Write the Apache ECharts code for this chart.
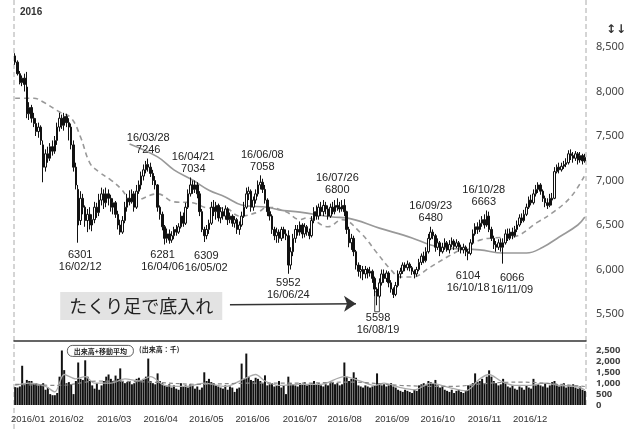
<!DOCTYPE html>
<html><head><meta charset="utf-8">
<script src="https://cdn.jsdelivr.net/npm/echarts@6/dist/echarts.min.js"></script>
<style>html,body{margin:0;padding:0;background:#fff}#c{width:640px;height:435px}</style>
</head><body><div id="c"></div>
<script>
// Trading days of 2016 by month
const monthKeys = ['01','02','03','04','05','06','07','08','09','10','11','12'];
const tradingDays = [
 [4,5,6,7,8,12,13,14,15,18,19,20,21,22,25,26,27,28,29],
 [1,2,3,4,5,8,9,10,12,15,16,17,18,19,22,23,24,25,26,29],
 [1,2,3,4,7,8,9,10,11,14,15,16,17,18,22,23,24,25,28,29,30,31],
 [1,4,5,6,7,8,11,12,13,14,15,18,19,20,21,22,25,26,27,28],
 [2,6,9,10,11,12,13,16,17,18,19,20,23,24,25,26,27,30,31],
 [1,2,3,6,7,8,9,10,13,14,15,16,17,20,21,22,23,24,27,28,29,30],
 [1,4,5,6,7,8,11,12,13,14,15,19,20,21,22,25,26,27,28,29],
 [1,2,3,4,5,8,9,10,12,15,16,17,18,19,22,23,24,25,26,29,30,31],
 [1,2,5,6,7,8,9,12,13,14,15,16,20,21,23,26,27,28,29,30],
 [3,4,5,6,7,11,12,13,14,17,18,19,20,21,24,25,26,27,28,31],
 [1,2,4,7,8,9,10,11,14,15,16,17,18,21,22,24,25,28,29,30],
 [1,2,5,6,7,8,9,12,13,14,15,16,19,20,21,22,26,27,28,29,30]
];
const categories = [];
monthKeys.forEach((m, k) => tradingDays[k].forEach(d => categories.push('16/' + m + '/' + String(d).padStart(2,'0'))));

// daily candles: [open, close, low, high]
const candlesJan = [[8400,8330,8300,8430],[8330,8200,8180,8350],[8200,8100,8080,8230],[8100,8150,8060,8180],[8150,8080,8000,8200],[8050,7750,7700,8220],[7750,7820,7680,7880],[7820,7700,7650,7850],[7700,7640,7600,7760],[7640,7550,7500,7700],[7550,7600,7480,7650],[7600,7450,7400,7620],[7400,7150,6980,7450],[7150,7300,7100,7350],[7300,7250,7200,7380],[7250,7380,7220,7420],[7380,7330,7280,7450],[7330,7450,7300,7500],[7450,7600,7400,7650]];
const candlesFeb = [[7600,7700,7550,7760],[7700,7620,7580,7740],[7620,7720,7560,7760],[7720,7650,7600,7750],[7650,7600,7450,7700],[7600,7400,7350,7640],[7400,7150,7100,7450],[7150,6950,6900,7200],[6900,6500,6301,6950],[6550,6800,6500,6880],[6800,6700,6620,6850],[6700,6550,6480,6720],[6550,6620,6420,6680],[6620,6500,6450,6700],[6500,6560,6430,6620],[6560,6700,6520,6760],[6700,6640,6580,6750],[6640,6780,6600,6850],[6780,6850,6720,6920],[6850,6750,6680,6900]];
const candlesMar = [[6750,6850,6700,6920],[6850,6800,6720,6900],[6800,6700,6650,6840],[6700,6750,6620,6800],[6750,6620,6580,6770],[6620,6500,6450,6660],[6500,6420,6390,6560],[6420,6550,6400,6600],[6550,6700,6520,6760],[6700,6800,6650,6850],[6800,6760,6720,6890],[6760,6850,6740,6900],[6850,6700,6650,6880],[6700,6880,6680,6950],[6880,6950,6850,7000],[6950,7050,6900,7100],[7050,7120,7000,7180],[7120,7180,7080,7220],[7180,7150,7100,7246],[7150,7080,7040,7200],[7080,7000,6950,7120],[7000,6950,6900,7050]];
const candlesApr = [[6950,6700,6650,6960],[6700,6620,6560,6720],[6620,6480,6440,6650],[6480,6350,6281,6500],[6350,6400,6300,6460],[6400,6330,6290,6450],[6330,6380,6300,6430],[6380,6450,6340,6480],[6450,6420,6380,6500],[6420,6480,6400,6520],[6480,6600,6460,6650],[6600,6520,6480,6640],[6520,6700,6500,6750],[6700,6850,6680,6900],[6850,6950,6820,7034],[6950,6900,6850,7000],[6900,6950,6860,7000],[6950,6850,6800,6980],[6850,6650,6600,6880],[6650,6450,6420,6680]];
const candlesMay = [[6450,6380,6309,6480],[6380,6450,6340,6500],[6450,6520,6400,6560],[6520,6700,6500,6760],[6700,6650,6600,6780],[6650,6720,6560,6760],[6720,6580,6540,6740],[6580,6650,6520,6700],[6650,6600,6560,6700],[6600,6680,6560,6720],[6680,6560,6500,6700],[6560,6600,6520,6640],[6600,6520,6480,6620],[6520,6560,6470,6600],[6560,6450,6400,6580],[6450,6500,6390,6540],[6500,6600,6480,6650],[6600,6700,6580,6760],[6700,6850,6680,6920]];
const candlesJun = [[6850,6880,6780,6930],[6880,6700,6650,6900],[6700,6780,6660,6820],[6780,6850,6740,6900],[6850,6950,6820,7000],[6950,6980,6900,7058],[6980,6900,6860,7020],[6900,6780,6740,6950],[6780,6650,6600,6800],[6650,6600,6550,6700],[6600,6450,6400,6620],[6450,6380,6330,6480],[6380,6420,6300,6470],[6420,6350,6300,6450],[6350,6450,6320,6480],[6450,6400,6350,6480],[6400,6380,6330,6450],[6380,6050,5952,6440],[6050,6200,6000,6250],[6200,6350,6150,6400],[6350,6450,6300,6500],[6450,6420,6380,6500]];
const candlesJul = [[6420,6500,6380,6540],[6500,6400,6350,6520],[6400,6480,6360,6520],[6480,6420,6380,6500],[6420,6380,6340,6460],[6380,6550,6360,6600],[6550,6650,6520,6700],[6650,6600,6560,6720],[6600,6700,6560,6740],[6700,6650,6600,6760],[6650,6720,6600,6780],[6720,6680,6620,6760],[6680,6600,6560,6720],[6600,6700,6580,6740],[6700,6650,6620,6760],[6650,6720,6620,6780],[6720,6700,6660,6800],[6700,6680,6640,6760],[6680,6720,6650,6780],[6720,6650,6600,6790]];
const candlesAug = [[6650,6450,6400,6660],[6450,6300,6250,6480],[6300,6350,6220,6400],[6350,6200,6150,6380],[6200,6050,6000,6220],[6050,5980,5920,6080],[5980,6000,5900,6050],[6000,5950,5880,6040],[5950,6000,5900,6040],[6000,5960,5900,6020],[5960,5980,5920,6030],[5980,5900,5850,6000],[5900,5780,5700,5920],[5780,5700,5598,5800],[5700,5850,5680,5900],[5850,5950,5820,6000],[5950,5900,5850,6000],[5900,5960,5860,5990],[5960,5850,5800,5980],[5850,5780,5740,5880],[5780,5720,5680,5800],[5720,5820,5700,5860]];
const candlesSep = [[5820,5950,5800,5990],[5950,5980,5900,6020],[5980,6050,5950,6080],[6050,6020,5980,6080],[6020,6060,5990,6100],[6060,6020,5980,6080],[6020,5980,5940,6040],[5980,5950,5900,6000],[5950,6000,5920,6030],[6000,6080,5980,6120],[6080,6150,6050,6180],[6150,6100,6070,6200],[6100,6200,6080,6250],[6200,6350,6180,6400],[6350,6420,6330,6480],[6420,6380,6340,6450],[6380,6250,6200,6400],[6250,6300,6220,6350],[6300,6200,6150,6320],[6200,6250,6180,6300]];
const candlesOct = [[6250,6300,6220,6350],[6300,6220,6200,6320],[6220,6280,6180,6330],[6280,6320,6250,6360],[6320,6260,6220,6340],[6260,6300,6240,6340],[6300,6250,6200,6320],[6250,6220,6180,6280],[6220,6250,6180,6290],[6250,6200,6150,6270],[6200,6180,6104,6230],[6180,6300,6160,6340],[6300,6400,6280,6450],[6400,6480,6380,6520],[6480,6450,6400,6530],[6450,6520,6420,6560],[6520,6560,6480,6600],[6560,6500,6460,6620],[6500,6600,6480,6663],[6600,6450,6420,6650]];
const candlesNov = [[6450,6350,6320,6480],[6350,6280,6230,6380],[6280,6250,6200,6320],[6250,6300,6220,6340],[6300,6250,6200,6350],[6250,6300,6066,6350],[6300,6400,6280,6450],[6400,6350,6320,6460],[6350,6420,6330,6460],[6420,6380,6340,6470],[6380,6450,6360,6490],[6450,6500,6420,6550],[6500,6580,6480,6620],[6580,6550,6520,6630],[6550,6620,6530,6670],[6620,6700,6600,6740],[6700,6780,6680,6820],[6780,6750,6720,6840],[6750,6850,6730,6900],[6850,6900,6820,6950]];
const candlesDec = [[6900,6950,6860,6980],[6950,6880,6840,6970],[6880,6800,6760,6900],[6800,6750,6700,6830],[6750,6720,6680,6800],[6720,6800,6700,6850],[6800,6780,6720,6860],[6800,7100,6790,7150],[7100,7150,7080,7180],[7150,7120,7080,7200],[7120,7160,7100,7200],[7160,7180,7130,7220],[7180,7200,7150,7250],[7200,7300,7180,7340],[7300,7280,7230,7350],[7280,7250,7200,7320],[7250,7300,7220,7330],[7300,7230,7180,7320],[7230,7280,7200,7320],[7280,7220,7180,7300],[7220,7260,7200,7300]];

// daily volume (thousand shares)
const volumeData = [
 820,800,850,1800,1000,1150,1100,1100,950,1000,900,950,1000,700,800,500,450,450,550,
 1300,2500,1600,1000,1050,950,500,1100,1950,1200,1150,2050,1300,1100,900,750,1000,700,900,1100,
 1300,1400,1200,1100,1350,1200,1680,1100,1000,1050,1100,950,1000,1200,1250,1150,1200,1300,2130,1100,1000,950,
 1450,1100,1000,900,850,950,800,900,750,700,1000,850,900,800,950,900,750,850,700,800,
 1500,1100,1200,1050,1000,900,850,800,750,900,700,850,800,600,750,800,1900,1200,2360,
 1300,1150,1100,1250,1200,1100,1000,1360,900,950,1000,850,900,1100,800,900,500,1300,1000,950,900,850,
 1000,950,1050,900,950,1000,1100,950,1000,900,850,950,900,1000,1050,950,1000,900,950,1950,
 1300,1100,1200,1500,1250,900,850,800,900,850,800,850,900,1450,1000,900,950,850,900,1000,850,800,
 700,650,600,700,650,600,550,700,650,900,950,1000,900,1100,1050,1000,1150,900,800,850,
 700,650,600,700,550,650,700,600,550,650,900,900,1000,1450,1050,1100,1200,1000,1300,1590,
 1300,1100,1000,900,950,1200,1000,850,800,900,750,700,850,800,700,900,800,750,1200,900,
 950,900,850,1000,800,900,1050,1100,950,850,900,1000,800,900,850,950,800,750,850,700,650
];

// moving averages
const priceMA25 = [['16/01/04',7925],['16/01/15',7925],['16/01/21',7882],['16/02/01',7770],['16/02/08',7702],['16/02/15',7488],['16/02/19',7196],['16/02/25',7095],['16/03/03',7005],['16/03/09',6915],['16/03/14',6814],['16/03/16',6740],['16/03/22',6780],['16/04/01',6850],['16/04/12',6760],['16/04/22',6750],['16/05/09',6690],['16/05/18',6690],['16/05/26',6600],['16/06/07',6645],['16/06/13',6700],['16/06/23',6650],['16/07/01',6560],['16/07/06',6580],['16/07/20',6480],['16/07/28',6560],['16/08/09',6410],['16/08/19',6185],['16/08/29',5995],['16/09/02',5915],['16/09/09',5915],['16/09/23',6030],['16/10/04',6140],['16/10/14',6240],['16/10/25',6330],['16/11/02',6355],['16/11/15',6365],['16/12/01',6535],['16/12/09',6635],['16/12/21',6815],['16/12/30',7060]];
const priceMA75 = [['16/03/15',7410],['16/04/01',7265],['16/04/12',7120],['16/04/22',7005],['16/05/09',6890],['16/05/18',6815],['16/05/27',6725],['16/06/13',6700],['16/06/20',6670],['16/07/01',6645],['16/07/22',6590],['16/08/01',6580],['16/08/22',6465],['16/09/09',6355],['16/09/23',6275],['16/10/04',6240],['16/10/25',6220],['16/11/09',6185],['16/11/24',6185],['16/12/05',6250],['16/12/14',6365],['16/12/27',6500],['16/12/30',6590]];
const volMAshort = [['16/01/04',900],['16/01/13',1000],['16/01/22',850],['16/01/28',600],['16/02/03',1400],['16/02/10',1200],['16/02/17',1300],['16/02/23',1000],['16/03/03',1000],['16/03/11',1200],['16/03/22',1100],['16/03/29',1300],['16/04/06',900],['16/04/19',850],['16/05/02',1000],['16/05/18',850],['16/05/30',1200],['16/06/06',1400],['16/06/10',1100],['16/06/20',900],['16/07/01',950],['16/07/14',950],['16/07/29',1300],['16/08/09',1100],['16/08/18',900],['16/08/24',1000],['16/09/02',800],['16/09/12',700],['16/09/23',1000],['16/10/05',800],['16/10/17',650],['16/10/25',1200],['16/10/31',1400],['16/11/08',1100],['16/11/16',900],['16/11/25',900],['16/12/06',1000],['16/12/14',900],['16/12/26',850],['16/12/30',700]];
const volMAlong = [['16/01/04',950],['16/02/01',900],['16/02/25',1100],['16/03/29',1050],['16/04/27',950],['16/06/01',1000],['16/07/01',1000],['16/08/02',1050],['16/09/02',900],['16/10/05',850],['16/10/31',1000],['16/11/18',1050],['16/12/14',950],['16/12/30',850]];

// annotated highs and lows
const peakMarks = [['16/03/28',7246],['16/04/21',7034],['16/06/08',7058],['16/07/26',6800],['16/09/23',6480],['16/10/28',6663]];
const troughMarks = [['16/02/12',6301],['16/04/06',6281],['16/05/02',6309],['16/06/24',5952],['16/08/19',5598],['16/10/18',6104],['16/11/09',6066]];
const noteText = 'たくり足で底入れ';

const candles = [].concat(candlesJan,candlesFeb,candlesMar,candlesApr,candlesMay,candlesJun,candlesJul,candlesAug,candlesSep,candlesOct,candlesNov,candlesDec);

const LBL_FONT = "'Liberation Sans Narrow','Liberation Sans',Arial,sans-serif";
const peakOff = {'16/04/21':[3,0],'16/06/08':[2,0],'16/10/28':[-3,0]};
const troughOff = {'16/02/12':[2,2],'16/04/06':[-2,0],'16/05/02':[2,3],'16/08/19':[1,2],'16/10/18':[0,5],'16/11/09':[9,4],'16/06/24':[0,-1]};
const markData = [];
peakMarks.forEach(([d,v]) => markData.push({coord:[d,v], value:v,
  label:{position:'top', distance:2, offset:peakOff[d]||[0,0], formatter:d+'\n'+v}}));
troughMarks.forEach(([d,v]) => markData.push({coord:[d,v], value:v,
  label:{position:'bottom', distance:4, offset:troughOff[d]||[0,0], formatter:v+'\n'+d}}));
markData.push({coord:['16/03/23',5590], label:{position:'inside', formatter:noteText, fontSize:18,
  fontFamily:"'Noto Sans CJK JP',sans-serif", color:'#222', backgroundColor:'#e3e3e3', padding:[4,9], lineHeight:20}});

const isMonthStart = (i) => i === 0 || categories[i].slice(3,5) !== categories[i-1].slice(3,5);
const monthLabel = (v) => '2016/' + v.slice(3,5);
// small horizontal nudges of the month labels (px), to match the original typesetting
const labelShift = {'02':7,'03':8,'04':3,'05':2,'06':4,'07':0,'08':-2,'09':-6,'10':-7,'11':-7,'12':-8};
const richStyles = {};
Object.keys(labelShift).forEach(m => {
  const s = labelShift[m];
  richStyles['m' + m] = {padding:[0, Math.max(0,-2*s), 0, Math.max(0,2*s)], fontSize:9.5, fontFamily:LBL_FONT, color:'#333'};
});

const chart = echarts.init(document.getElementById('c'), null, {renderer:'canvas'});
chart.setOption({
  animation:false,
  backgroundColor:'#fff',
  grid:[
    {left:14, right:54, top:2.5, height:338.2},
    {left:14, right:54, top:340.7, height:64.3}
  ],
  xAxis:[
    {type:'category', gridIndex:0, data:categories, boundaryGap:true,
     axisLine:{show:true, lineStyle:{color:'#333', width:1.5}}, axisTick:{show:false}, axisLabel:{show:false}, splitLine:{show:false}},
    {type:'category', gridIndex:1, data:categories, boundaryGap:true,
     axisLine:{show:false}, axisTick:{show:false}, splitLine:{show:false},
     axisLabel:{show:true, interval:(i)=> i > 0 && isMonthStart(i),
       formatter:(v)=> '{m' + v.slice(3,5) + '|' + monthLabel(v) + '}', rich:richStyles,
       margin:9, fontSize:9.5, fontFamily:LBL_FONT, color:'#333', showMinLabel:true, showMaxLabel:true, hideOverlap:false}}
  ],
  yAxis:[
    {type:'value', gridIndex:0, position:'right', min:5200, max:9000, interval:100, scale:false,
     axisLine:{show:false}, axisTick:{show:false}, splitLine:{show:false},
     axisLabel:{margin:10, fontSize:11, color:'#444', fontFamily:"'Noto Sans',sans-serif",
       formatter:(v)=> (v%500===0 && v>=5500 && v<=8500) ? v.toLocaleString('en-US') : ''}},
    {type:'value', gridIndex:1, position:'right', min:0, max:2950, interval:500,
     axisLine:{show:false}, axisTick:{show:false}, splitLine:{show:false},
     axisLabel:{margin:10, fontSize:9.5, fontWeight:'bold', color:'#444', fontFamily:"'Noto Sans',sans-serif",
       formatter:(v)=> v<=2500 ? v.toLocaleString('en-US') : ''}}
  ],
  series:[
    {type:'candlestick', xAxisIndex:0, yAxisIndex:0, data:candles, barWidth:2, z:3,
     itemStyle:{color:'#fff', color0:'#111', borderColor:'#111', borderColor0:'#111', borderWidth:1},
     markPoint:{symbol:'circle', symbolSize:1, itemStyle:{color:'rgba(0,0,0,0)'}, silent:true,
       label:{show:true, fontSize:11, lineHeight:12, color:'#222', fontFamily:LBL_FONT}, data:markData},
     markLine:{silent:true, symbol:['none','arrow'], symbolSize:12,
       lineStyle:{color:'#333', width:1.5, type:'solid'}, label:{show:false},
       data:[[{coord:['16/05/20',5605]},{coord:['16/08/05',5615]}]]},
     markArea:{silent:true, itemStyle:{color:'#fff', borderColor:'#444', borderWidth:1, opacity:1},
       data:[[{xAxis:'16/08/18', yAxis:5750},{xAxis:'16/08/22', yAxis:5525}]]}
    },
    {type:'line', xAxisIndex:0, yAxisIndex:0, data:priceMA25, smooth:0.4, showSymbol:false, z:2,
     lineStyle:{color:'#999', width:1.6, type:[5,4]}},
    {type:'line', xAxisIndex:0, yAxisIndex:0, data:priceMA75, smooth:0.4, showSymbol:false, z:2,
     lineStyle:{color:'#999', width:1.6}},
    {type:'bar', xAxisIndex:1, yAxisIndex:1, data:volumeData, barCategoryGap:'15%', itemStyle:{color:'#111'}},
    {type:'line', xAxisIndex:1, yAxisIndex:1, data:volMAshort, smooth:0.3, showSymbol:false, z:3,
     lineStyle:{color:'#aaa', width:1.3}},
    {type:'line', xAxisIndex:1, yAxisIndex:1, data:volMAlong, smooth:0.4, showSymbol:false, z:3,
     lineStyle:{color:'#888', width:1.2, type:[4,3]}}
  ],
  graphic:[
    {type:'line', shape:{x1:14,y1:0,x2:14,y2:432}, style:{stroke:'#aaa', lineWidth:1, lineDash:[5,3]}, silent:true, z:0},
    {type:'line', shape:{x1:586,y1:0,x2:586,y2:408}, style:{stroke:'#aaa', lineWidth:1, lineDash:[5,3]}, silent:true, z:0},
    {type:'text', left:11, top:414, style:{text:monthLabel(categories[0]), font:"9.5px " + LBL_FONT, fill:'#333'}},
    {type:'text', left:20, top:7, style:{text:'2016', font:"bold 10px 'Liberation Sans',sans-serif", fill:'#333'}},
    {type:'text', left:606, top:24, style:{text:'↕↓', font:"bold 12px 'DejaVu Sans',sans-serif", fill:'#333'}},
    {type:'group', left:67, top:345, children:[
      {type:'rect', shape:{x:0,y:0,width:66,height:11,r:5}, style:{fill:'#fff', stroke:'#333', lineWidth:0.8}},
      {type:'text', x:33, y:5.5, style:{text:'出来高+移動平均', font:"bold 7px 'Noto Sans CJK JP',sans-serif", fill:'#222', align:'center', verticalAlign:'middle'}}
    ]},
    {type:'text', left:139, top:346, style:{text:'(出来高：千)', font:"bold 7px 'Noto Sans CJK JP',sans-serif", fill:'#222'}}
  ]
});
</script></body></html>
